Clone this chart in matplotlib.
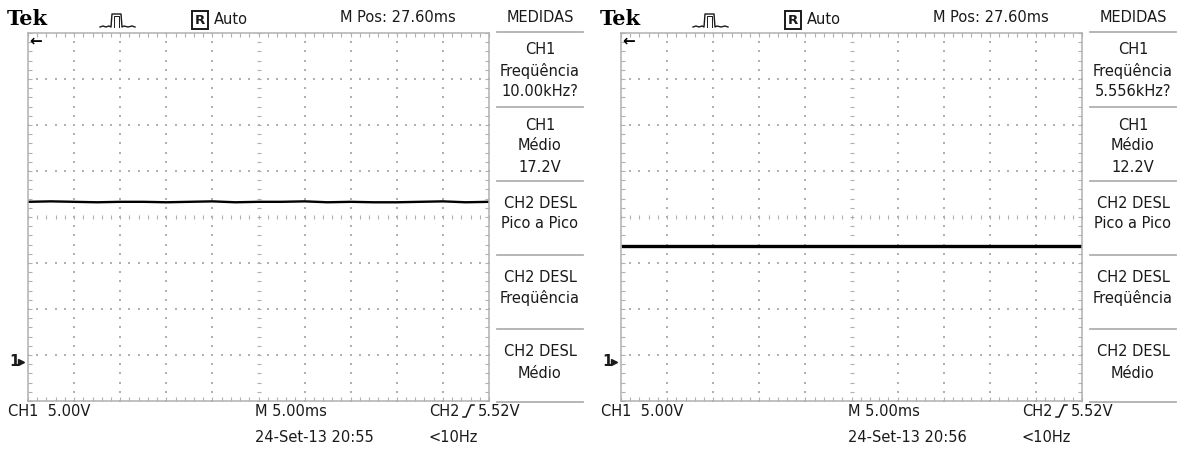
import matplotlib
matplotlib.use("Agg")
import matplotlib.pyplot as plt
import numpy as np

# screen captures: time axis in ms (10 div x 5 ms), CH1 in volts (5 V/div)
time_ms = [0, 2.5, 5, 7.5, 10, 12.5, 15, 17.5, 20, 22.5, 25, 27.5, 30,
           32.5, 35, 37.5, 40, 42.5, 45, 47.5, 50]
ch1_left = [17.35, 17.4, 17.35, 17.3, 17.35, 17.35, 17.3, 17.35, 17.4, 17.3, 17.35,
            17.35, 17.4, 17.3, 17.35, 17.3, 17.3, 17.35, 17.4, 17.3, 17.35]
ch1_right = [12.6, 12.6, 12.6, 12.6, 12.6, 12.6, 12.6, 12.6, 12.6, 12.6, 12.6,
             12.6, 12.6, 12.6, 12.6, 12.6, 12.6, 12.6, 12.6, 12.6, 12.6]

freq_labels = ["10.00kHz?", "5.556kHz?"]
mean_labels = ["17.2V", "12.2V"]
clock_labels = ["24-Set-13 20:55", "24-Set-13 20:56"]

W, H = 1183, 450
FONT = ["Liberation Sans Narrow", "DejaVu Sans"]
GRAY = "#b0b0b0"
TXT = "#1a1a1a"
V_BOT, V_TOP = -4.3, 35.7

fig = plt.figure(figsize=(W / 100, H / 100), dpi=100)
ov = fig.add_axes([0, 0, 1, 1])
ov.set_xlim(0, W)
ov.set_ylim(H, 0)
ov.axis("off")
ov.set_zorder(5)


def txt(x, y, s, ha="left", size=10.5, **kw):
    ov.text(x, y, s, ha=ha, va="center", fontsize=size, color=TXT,
            family=FONT, **kw)


def draw_screen(dx, values, freq, mean, clock):
    gx0, gy0, gw, gh = 28 + dx, 33, 461, 368
    ax = fig.add_axes([gx0 / W, 1 - (gy0 + gh) / H, gw / W, gh / H])
    ax.set_xlim(0, 50)
    ax.set_ylim(V_BOT, V_TOP)
    for sp in ax.spines.values():
        sp.set_color(GRAY)
        sp.set_linewidth(1.1)
    ax.set_xticks([])
    ax.set_yticks([])
    ax.set_xticks(np.arange(0, 50.01, 1.0), minor=True)
    ax.set_yticks(V_BOT + np.arange(0, 40.01, 1.0), minor=True)
    ax.tick_params(which="minor", direction="in", length=3, width=0.8,
                   color=GRAY, top=True, right=True,
                   labelbottom=False, labelleft=False)

    # dotted graticule
    xs_fine = np.arange(0, 50.01, 1.0)
    ys_fine = V_BOT + np.arange(0, 40.01, 1.0)
    for k in range(1, 8):
        if k == 4:
            continue
        yk = V_BOT + 5 * k
        ax.scatter(xs_fine, np.full_like(xs_fine, yk), s=1.0, color=GRAY,
                   marker="s", linewidths=0)
    for k in range(1, 10):
        if k == 5:
            continue
        ax.scatter(np.full_like(ys_fine, 5 * k), ys_fine, s=1.0, color=GRAY,
                   marker="s", linewidths=0)
    # centre lines with short tick marks
    ax.plot(xs_fine, np.full_like(xs_fine, V_BOT + 20), ls="none",
            marker="|", ms=3.5, mew=0.8, color=GRAY)
    ax.plot(np.full_like(ys_fine, 25), ys_fine, ls="none",
            marker="_", ms=3.5, mew=0.8, color=GRAY)

    # trace
    lw = 1.7 if dx == 0 else 2.4
    ax.plot(time_ms, values, color="black", lw=lw, solid_capstyle="butt")

    # header
    ov.text(7 + dx, 19, "Tek", ha="left", va="center", fontsize=15,
            fontweight="bold", family="DejaVu Serif", color="black")
    px = np.array([100, 103, 106, 109, 111, 112, 121, 122, 124, 128, 132, 135]) + dx
    py = np.array([27, 26, 27, 26, 27, 14, 14, 27, 26, 27, 26, 27])
    ov.plot(px, py, color=TXT, lw=1.0)
    ov.plot([114 + dx, 114 + dx, 119 + dx, 119 + dx], [27, 16, 16, 27],
            color=TXT, lw=0.7)
    txt(200 + dx, 20, "R", ha="center", size=9.5, fontweight="bold",
        bbox=dict(boxstyle="square,pad=0.2", fc="white", ec=TXT, lw=1.4))
    txt(214 + dx, 19, "Auto")
    txt(340 + dx, 18, "M Pos: 27.60ms")

    # trigger position arrow and channel ground marker
    ov.text(29 + dx, 41, "\u2190", ha="left", va="center", fontsize=11,
            fontweight="bold", color="black", family="DejaVu Sans")
    txt(9 + dx, 362, "1", size=10.5, fontweight="bold")
    ov.plot([21 + dx], [362], marker=">", ms=5, color=TXT)

    # measurement column
    cx = 540 + dx
    txt(cx, 18, "MEDIDAS", ha="center")
    for y in [32, 107, 181, 255, 329, 402]:
        ov.plot([497 + dx, 583 + dx], [y, y], color=GRAY, lw=1.3)
    for y, s in [(50, "CH1"), (71, "Freqüência"), (92, freq),
                 (125, "CH1"), (146, "Médio"), (167, mean),
                 (203, "CH2 DESL"), (224, "Pico a Pico"),
                 (277, "CH2 DESL"), (298, "Freqüência"),
                 (352, "CH2 DESL"), (374, "Médio")]:
        txt(cx, y, s, ha="center")

    # footer
    txt(8 + dx, 411, "CH1  5.00V")
    txt(255 + dx, 411, "M 5.00ms")
    txt(429 + dx, 411, "CH2")
    ov.plot([463 + dx, 466 + dx, 471 + dx, 474 + dx],
            [417, 417, 405, 405], color=TXT, lw=1.1)
    txt(478 + dx, 411, "5.52V")
    txt(255 + dx, 437, clock)
    txt(429 + dx, 437, "<10Hz")


draw_screen(0, ch1_left, freq_labels[0], mean_labels[0], clock_labels[0])
draw_screen(593, ch1_right, freq_labels[1], mean_labels[1], clock_labels[1])

fig.savefig("out.png", dpi=100, facecolor="white")
